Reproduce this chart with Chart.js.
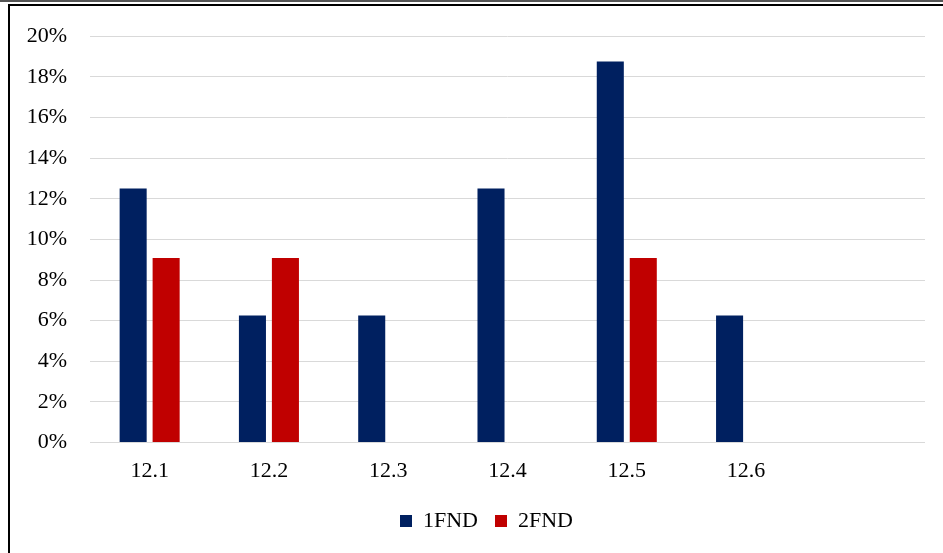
<!DOCTYPE html>
<html>
<head>
<meta charset="utf-8">
<script src="https://cdn.jsdelivr.net/npm/chart.js@4"></script>
<style>
  html, body { margin: 0; padding: 0; background: #fff; }
  body { width: 943px; height: 553px; position: relative; overflow: hidden; }
  #topLine { position: absolute; left: 0; top: 0; width: 943px; height: 2px; background: #555; }
  #frame { position: absolute; left: 8px; top: 4px; width: 935px; height: 549px;
           border-top: 2px solid #000; border-left: 2px solid #000; box-sizing: border-box; }
  #wrap { position: absolute; left: 0; top: 0; width: 943px; height: 553px; }
</style>
</head>
<body>
<div id="topLine"></div>
<div id="frame"></div>
<div id="wrap"><canvas id="chart"></canvas></div>
<script>
const categories = ["12.1", "12.2", "12.3", "12.4", "12.5", "12.6", ""];
const fnd1 = [12.5, 6.25, 6.25, 12.5, 18.75, 6.25, null];
const fnd2 = [9.09, 9.09, 0, 0, 9.09, 0, null];
const yTicks = [0, 2, 4, 6, 8, 10, 12, 14, 16, 18, 20];

const font = { family: "'Liberation Serif', 'Times New Roman', serif", size: 22 };

// legend in the original sits a bit right of centre
const legendShift = {
  id: "legendShift",
  afterLayout(chart) {
    chart.legend.left += 24;
    chart.legend.right += 24;
  },
};

const ctx = document.getElementById("chart").getContext("2d");

const config = {
  type: "bar",
  data: {
    labels: categories,
    datasets: [
      {
        label: "1FND",
        data: fnd1,
        backgroundColor: "#002060",
        categoryPercentage: 0.553,
        barPercentage: 0.82,
      },
      {
        label: "2FND",
        data: fnd2,
        backgroundColor: "#C00000",
        categoryPercentage: 0.553,
        barPercentage: 0.82,
      },
    ],
  },
  options: {
    responsive: true,
    maintainAspectRatio: false,
    animation: false,
    layout: {
      padding: { left: 0, right: 18, top: 21, bottom: 11 },
    },
    plugins: {
      legend: {
        position: "bottom",
        labels: {
          font: font,
          color: "#000",
          boxWidth: 12,
          boxHeight: 12,
          padding: 17,
        },
      },
      tooltip: { enabled: false },
    },
    scales: {
      x: {
        afterFit: function (scale) {
          scale.height += 2;
        },
        grid: { display: false },
        border: { display: false },
        ticks: { font: font, color: "#000", padding: 7 },
      },
      y: {
        min: 0,
        max: 20,
        afterBuildTicks: function (scale) {
          scale.ticks = yTicks.map((v) => ({ value: v }));
        },
        afterFit: function (scale) {
          scale.width = 90;
        },
        grid: { color: "#d9d9d9", lineWidth: 1, drawTicks: false },
        border: { display: false },
        ticks: {
          font: font,
          color: "#000",
          padding: 23,
          callback: function (value) {
            return value + "%";
          },
        },
      },
    },
  },
  plugins: [legendShift],
};

const chart = new Chart(ctx, config);
</script>
</body>
</html>
